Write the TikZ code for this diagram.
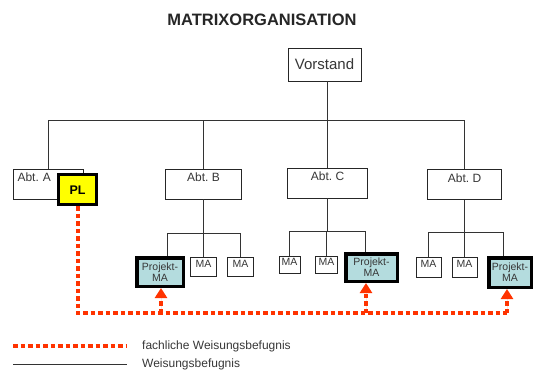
\documentclass[tikz,border=0pt]{standalone}
\usepackage{fontspec}
\setmainfont{Liberation Sans}
\usetikzlibrary{arrows.meta}
\definecolor{fred}{RGB}{255,51,0}
\definecolor{pmblue}{RGB}{180,220,222}
\definecolor{plyellow}{RGB}{255,255,0}
\definecolor{txt}{RGB}{55,55,55}
\frenchspacing
\begin{document}
\begin{tikzpicture}[x=1pt,y=-1pt,
  box/.style={draw=black!85, line width=0.8pt, fill=white, inner sep=0pt, text=txt},
  abt/.style={box, minimum height=30pt, font=\fontsize{12}{13}\selectfont, text height=7.5pt, text depth=12pt},
  ma/.style={box, minimum height=19pt, font=\fontsize{10.5}{11}\selectfont, text height=7pt, text depth=6pt},
  pm/.style={draw=black, line width=3.5pt, fill=pmblue, inner sep=0pt, align=center, text=txt,
    font=\fontsize{10.5}{11}\selectfont},
  tree/.style={draw=black!80, line width=0.9pt},
  reddot/.style={draw=fred, line width=4pt, dash pattern=on 4.5pt off 3pt},
  redtip/.style={-{Triangle[width=12pt,length=10pt]}, fill=fred}
]
\useasboundingbox (0,0) rectangle (533,372);

\node[font=\bfseries\fontsize{16.5}{18}\selectfont, text=black!85] (title) at (262,20) {MATRIXORGANISATION};

\node[box, minimum width=73pt, minimum height=33pt, font=\fontsize{15}{17}\selectfont] (V) at (324.5,64.5) {Vorstand};

% departments
\node[abt, minimum width=70pt, text width=62pt, align=left] (AbtA) at (48.5,184) {Abt. A};
\node[draw=black, line width=3pt, fill=plyellow, minimum width=38pt, minimum height=30pt, inner sep=0pt,
  font=\bfseries\fontsize{12.5}{14}\selectfont, text height=9pt, text depth=0pt] (PL) at (77.5,189.5) {PL};
\node[abt, minimum width=76pt] (AbtB) at (203.5,184) {Abt. B};
\node[abt, minimum width=80pt] (AbtC) at (327.5,183) {Abt. C};
\node[abt, minimum width=74pt] (AbtD) at (464.5,184.5) {Abt. D};

% staff B
\node[pm, minimum width=46.5pt, minimum height=28.5pt] (PMB) at (160,272) {Projekt-\\MA};
\node[ma, minimum width=26pt] (MAB1) at (203.5,266.5) {MA};
\node[ma, minimum width=26pt] (MAB2) at (240.5,266.5) {MA};
% staff C
\node[ma, minimum width=21pt, minimum height=17pt] (MAC1) at (289.5,264.5) {MA};
\node[ma, minimum width=22pt, minimum height=17pt] (MAC2) at (326.5,264.5) {MA};
\node[pm, minimum width=51.5pt, minimum height=27.5pt] (PMC) at (371.5,267.5) {Projekt-\\MA};
% staff D
\node[ma, minimum width=25pt, minimum height=20pt] (MAD1) at (428.5,267) {MA};
\node[ma, minimum width=25pt, minimum height=20pt] (MAD2) at (464.5,267) {MA};
\node[pm, minimum width=42.5pt, minimum height=29.5pt] (PMD) at (510,272.5) {Projekt-\\MA};

% top tree
\coordinate (jD) at (464.5,120.5);
\draw[tree] (V.south -| AbtC.north) -- (AbtC.north);
\draw[tree] (AbtA.north) |- (jD) -- (AbtD.north);
\draw[tree] (AbtB.north) -- (AbtB.north |- jD);

% subtree B
\coordinate (bB) at (203.5,233.5);
\draw[tree] (AbtB.south) -- (bB) -- (MAB1.north);
\draw[tree] ([xshift=7.5pt]PMB.north) |- (bB) -| (MAB2.north);
% subtree C
\coordinate (bC) at (327.5,231.5);
\draw[tree] (AbtC.south) -- (bC);
\draw[tree] (MAC1.north) |- (bC) -| ([xshift=-6pt]PMC.north);
\draw[tree] (MAC2.north) -- (MAC2.north |- bC);
% subtree D
\coordinate (bD) at (464.5,232.5);
\draw[tree] (AbtD.south) -- (bD) -- (MAD2.north);
\draw[tree] (MAD1.north) |- (bD) -| ([xshift=-6.5pt]PMD.north);

% fachliche Weisungsbefugnis
\coordinate (rEnd) at (507,313);
\draw[reddot] (PL.south) |- (rEnd);
\draw[reddot, redtip] ([xshift=1pt]PMB.south |- rEnd) -- ([xshift=1pt]PMB.south);
\draw[reddot, redtip] ([xshift=-5.5pt]PMC.south |- rEnd) -- ([xshift=-5.5pt]PMC.south);
\draw[reddot, redtip] (rEnd) -- ([xshift=-3pt]PMD.south);

% legend
\coordinate (l1a) at (13,346);
\coordinate (l1b) at (127,346);
\coordinate (l2a) at (13,364.5);
\coordinate (l2b) at (127,364.5);
\draw[reddot] (l1a) -- (l1b);
\draw[tree] (l2a) -- (l2b);
\node[anchor=west, inner sep=0pt, text=txt, font=\fontsize{12}{13}\selectfont] (leg1) at (142,346) {fachliche Weisungsbefugnis};
\node[anchor=west, inner sep=0pt, text=txt, font=\fontsize{12}{13}\selectfont] (leg2) at (142,364) {Weisungsbefugnis};
\end{tikzpicture}
\end{document}
